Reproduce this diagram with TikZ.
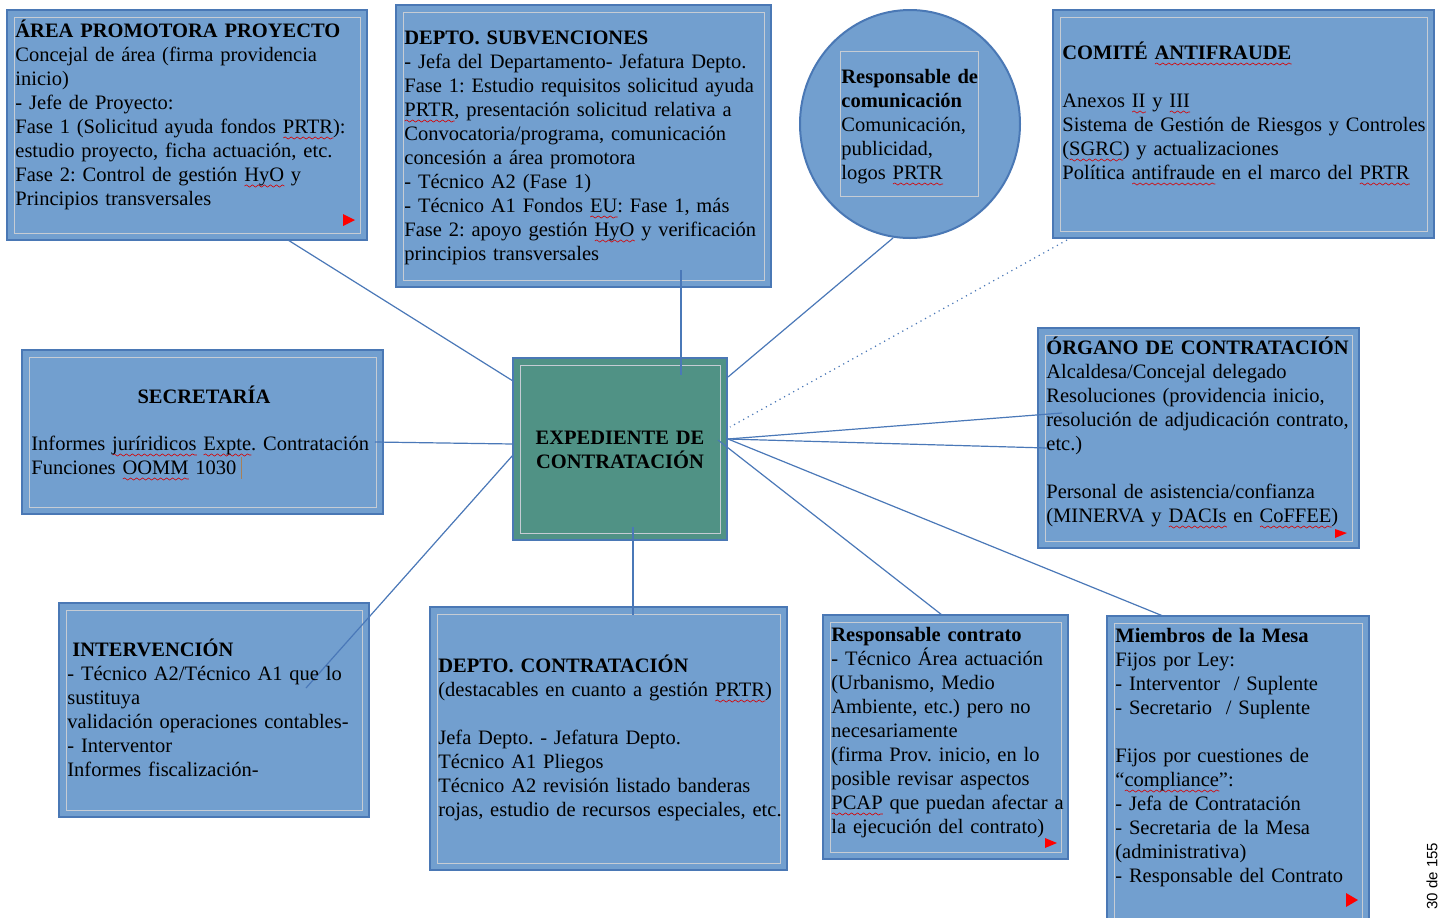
\documentclass[tikz,border=0pt]{standalone}
\usepackage{fontspec}
\setmainfont{Liberation Serif}
\newfontfamily\pagefont{Liberation Sans}
\usetikzlibrary{fit,calc,shapes.geometric,decorations.pathmorphing}
\definecolor{boxfill}{HTML}{729FCF}
\definecolor{boxline}{HTML}{4A78B5}
\definecolor{framecol}{HTML}{C6CCD4}
\definecolor{ctrfill}{HTML}{509285}
\definecolor{conn}{HTML}{4A78B8}
\frenchspacing
\newsavebox\sqbox
\newcommand\sq[1]{\leavevmode\sbox\sqbox{#1}\rlap{\tikz[baseline=0pt,x=1pt,y=1pt]\draw[red!85!black, line width=0.3pt, decorate, decoration={snake, amplitude=0.55pt, segment length=3pt}] (0pt,-2.3pt) -- (\the\wd\sqbox,-2.3pt);}\usebox\sqbox}
\newcommand\fst{\rule{0pt}{10pt}}
\tikzset{
  boxbg/.style={draw=boxline, line width=1pt, fill=boxfill, inner sep=0pt},
  frameline/.style={draw=framecol, line width=0.5pt},
  txt/.style={anchor=north west, inner sep=0pt, align=left, font=\fontsize{10.25}{12}\selectfont, text width=#1},
  txt/.default=200pt,
  ctxt/.style={anchor=north, inner sep=0pt, align=center, font=\fontsize{10.25}{12}\selectfont, text width=#1},
  ctxt/.default=150pt,
  conline/.style={draw=conn, line width=0.6pt},
  redmark/.style={fill=red},
}
\newcommand\mybox[6][boxfill]{%
  \node[boxbg, fill=#1, fit={(#3,#4)(#5,#6)}] (#2) {};
  \draw[frameline] ([shift={(8,8)}]#2.north west) rectangle ([shift={(-8,-8)}]#2.south east);}
\begin{document}
\begin{tikzpicture}[x=0.5pt,y=-0.5pt]
\fill[white] (0,0) rectangle (1442,917);
\useasboundingbox (0,0) rectangle (1442,917);

% boxes
\mybox{area}{7}{10}{367}{240}
\mybox{subv}{396}{5}{771}{287}
\node[ellipse, draw=boxline, line width=1pt, fill=boxfill, minimum width=110pt, minimum height=114pt, inner sep=0pt] (circ) at (910,124) {};
\draw[frameline] (840,51) rectangle (978,196);
\mybox{comite}{1053}{10}{1434}{238}
\mybox{secr}{22}{350}{383}{514}
\mybox[ctrfill]{exp}{513}{358}{727}{540}
\mybox{organo}{1038}{328}{1359}{548}
\mybox{interv}{59}{603}{369}{817}
\mybox{contr}{430}{607}{787}{870}
\mybox{resp}{823}{615}{1068}{859}
\mybox{mesa}{1107}{616}{1369}{925}

% connector end points
\coordinate (pa) at (288,240);  \coordinate (ea) at (513,381);
\coordinate (ps) at (681,270);  \coordinate (es) at (681,375);
\coordinate (pc) at (893,238);  \coordinate (ec) at (728,377);
\coordinate (pf) at (1067,240); \coordinate (ef) at (730,427);
\coordinate (er) at (728,439);
\coordinate (po1) at (1062,413); \coordinate (po2) at (1047,448);
\coordinate (pm) at (1163,616);
\coordinate (et) at (718,440);  \coordinate (pt) at (942,615);
\coordinate (psc) at (375,442); \coordinate (esc) at (513,444);
\coordinate (ei) at (513,455);  \coordinate (pi) at (306,688);
\coordinate (ek) at (633,527);  \coordinate (pk) at (633,615);

% connectors
\draw[conline] (pa) -- (ea);
\draw[conline] (ps) -- (es);
\draw[conline] (pc) -- (ec);
\draw[conline, dotted] (pf) -- (ef);
\draw[conline] (er) -- (po1);
\draw[conline] (er) -- (po2);
\draw[conline] (er) -- (pm);
\draw[conline] (et) -- (pt);
\draw[conline] (psc) -- (esc);
\draw[conline] (ei) -- (pi);
\draw[conline] (ek) -- (pk);

% texts
\node[txt] (area-t) at (15,17) {\fst\textbf{ÁREA PROMOTORA PROYECTO}\\
Concejal de área (firma providencia\\
inicio)\\
- Jefe de Proyecto:\\
Fase 1 (Solicitud ayuda fondos \sq{PRTR}):\\
estudio proyecto, ficha actuación, etc.\\
Fase 2: Control de gestión \sq{HyO} y\\
Principios transversales};

\node[txt] (subv-t) at (404,24) {\fst\textbf{DEPTO. SUBVENCIONES}\\
- Jefa del Departamento- Jefatura Depto.\\
Fase 1: Estudio requisitos solicitud ayuda\\
\sq{PRTR}, presentación solicitud relativa a\\
Convocatoria/programa, comunicación\\
concesión a área promotora\\
- Técnico A2 (Fase 1)\\
- Técnico A1 Fondos \sq{EU}: Fase 1, más\\
Fase 2: apoyo gestión \sq{HyO} y verificación\\
principios transversales};

\node[txt=100pt] (circ-t) at (841,63) {\fst\textbf{Responsable de}\\
\textbf{comunicación}\\
Comunicación,\\
publicidad,\\
logos \sq{PRTR}};

\node[txt] (comite-t) at (1062,39) {\fst\textbf{COMITÉ \sq{ANTIFRAUDE}}\\[12pt]
Anexos \sq{II} y \sq{III}\\
Sistema de Gestión de Riesgos y Controles\\
(\sq{SGRC}) y actualizaciones\\
Política \sq{antifraude} en el marco del \sq{PRTR}};

\node[ctxt] (secr-h) at (204,383) {\fst\textbf{SECRETARÍA}};
\node[txt] (secr-t) at (31,430) {\fst Informes \sq{juríridicos} \sq{Expte}. Contratación\\
Funciones \sq{OOMM} 1030};
\draw[brown!60!gray, line width=0.5pt] (241,457) -- (241,479);

\node[ctxt=100pt] (exp-t) at (620,424) {\fst\textbf{EXPEDIENTE DE}\\
\textbf{CONTRATACIÓN}};

\node[txt=180pt] (organo-t) at (1046,334) {\fst\textbf{ÓRGANO DE CONTRATACIÓN}\\
Alcaldesa/Concejal delegado\\
Resoluciones (providencia inicio,\\
resolución de adjudicación contrato,\\
etc.)\\[12pt]
Personal de asistencia/confianza\\
(MINERVA y \sq{DACIs} en \sq{CoFFEE})};

\node[txt=180pt] (interv-t) at (67,636) {\fst\hspace*{2.5pt}\textbf{INTERVENCIÓN}\\
- Técnico A2/Técnico A1 que lo\\
sustituya\\
validación operaciones contables-\\
- Interventor\\
Informes fiscalización-};

\node[txt] (contr-t) at (438,652) {\fst\textbf{DEPTO. CONTRATACIÓN}\\
(destacables en cuanto a gestión \sq{PRTR})\\[12pt]
Jefa Depto. - Jefatura Depto.\\
Técnico A1 Pliegos\\
Técnico A2 revisión listado banderas\\
rojas, estudio de recursos especiales, etc.};

\node[txt=140pt] (resp-t) at (831,621) {\fst\textbf{Responsable contrato}\\
- Técnico Área actuación\\
(Urbanismo, Medio\\
Ambiente, etc.) pero no\\
necesariamente\\
(firma Prov. inicio, en lo\\
posible revisar aspectos\\
\sq{PCAP} que puedan afectar a\\
la ejecución del contrato)};

\node[txt=150pt] (mesa-t) at (1115,622) {\fst\textbf{Miembros de la Mesa}\\
Fijos por Ley:\\
- Interventor\ \ / Suplente\\
- Secretario\ \ / Suplente\\[12pt]
Fijos por cuestiones de\\
“\sq{compliance}”:\\
- Jefa de Contratación\\
- Secretaria de la Mesa\\
(administrativa)\\
- Responsable del Contrato};

% red markers
\fill[redmark] (343,214) -- (355,220) -- (343,226) -- cycle;
\fill[redmark] (1335,529) -- (1347,533) -- (1335,538) -- cycle;
\fill[redmark] (1045,838) -- (1057,843) -- (1045,848) -- cycle;
\fill[redmark] (1346,893) -- (1358,900) -- (1346,907) -- cycle;

% page number
\node[rotate=90, inner sep=0pt, font=\pagefont\fontsize{7.5}{9}\selectfont] (pg) at (1432,876) {30 de 155};
\end{tikzpicture}
\end{document}
